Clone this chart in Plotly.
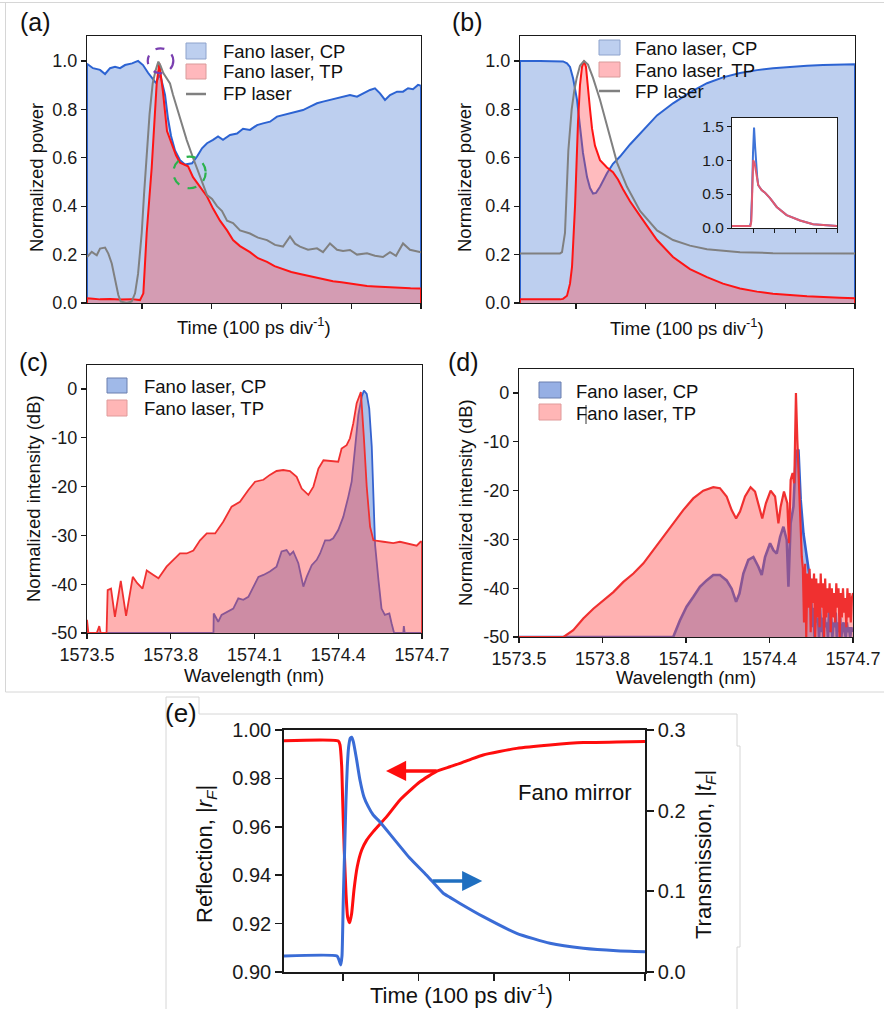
import plotly.graph_objects as go

W, H = 884, 1009
FONT = "Liberation Sans, Arial, Helvetica, sans-serif"


def fx(px):
    return px / W


def fy(py):
    return 1 - py / H


# ---------------- (a) measured pulse, time in ps ----------------
a_cp_t = [21.1, 21.1, 29.7, 39.8, 47.0, 54.1, 61.3, 68.5, 75.6, 85.7,
          94.3, 101.4, 108.6, 115.8, 120.1, 124.4, 127.2, 133.0, 137.3, 141.6,
          147.3, 154.5, 161.6, 171.7, 178.9, 186.0, 193.2, 201.8, 209.0, 216.1,
          226.2, 236.2, 244.8, 254.8, 264.9, 273.5, 283.5, 293.5, 302.2, 312.2,
          322.2, 330.8, 340.9, 350.9, 359.5, 369.5, 379.6, 388.2, 398.2, 408.2,
          416.8, 426.9, 434.0, 441.2, 448.4, 455.6, 465.6, 474.2, 481.4, 488.5,
          495.7, 500.0, 500.0]
a_cp_p = [0, 0.988, 0.970, 0.963, 0.946, 0.970, 0.976, 0.970, 0.983, 0.990,
          1.0, 0.983, 0.951, 0.921, 0.908, 0.94, 0.93, 0.86, 0.76, 0.69,
          0.63, 0.59, 0.572, 0.577, 0.605, 0.639, 0.66, 0.674, 0.688, 0.674,
          0.694, 0.70, 0.72, 0.715, 0.735, 0.742, 0.749, 0.77, 0.776, 0.783,
          0.790, 0.797, 0.811, 0.825, 0.832, 0.839, 0.845, 0.852, 0.859, 0.852,
          0.866, 0.880, 0.887, 0.866, 0.839, 0.859, 0.873, 0.873, 0.887, 0.883,
          0.901, 0.897, 0]

a_tp_t = [21.1, 21.1, 29.7, 39.8, 54.1, 68.5, 85.7, 97.1, 101.9, 106.7,
          113.9, 121.1, 124.8, 130.1, 135.8, 143.0, 148.7, 154.5, 161.6, 166.0,
          173.1, 183.2, 193.2, 201.8, 211.8, 221.9, 230.5, 240.5, 254.8, 266.3,
          279.2, 290.0, 302.2, 314.0, 326.5, 338.0, 350.9, 362.0, 373.8, 386.0,
          398.2, 410.0, 422.6, 434.0, 445.5, 458.0, 470.0, 485.0, 500.0, 500.0]
a_tp_p = [0, 0.02, 0.018, 0.015, 0.017, 0.014, 0.016, 0.012, 0.04, 0.29,
          0.56, 0.91, 0.99, 0.87, 0.71, 0.65, 0.61, 0.58, 0.57, 0.565,
          0.52, 0.48, 0.44, 0.39, 0.34, 0.30, 0.26, 0.235, 0.21, 0.185,
          0.17, 0.152, 0.14, 0.128, 0.12, 0.113, 0.105, 0.096, 0.09, 0.086,
          0.08, 0.075, 0.07, 0.068, 0.066, 0.064, 0.062, 0.061, 0.06, 0]

a_fp_t = [21.1, 27.9, 35.1, 39.8, 47.0, 51.7, 56.6, 61.3, 66.0, 69.5,
          78.1, 85.2, 90.0, 94.3, 99.6, 102.9, 106.7, 110.8, 115.3, 119.4,
          123.4, 126.5, 130.5, 135.1, 140.1, 144.4, 149.7, 156.6, 164.1, 173.1,
          183.2, 193.2, 200.4, 207.5, 214.7, 221.9, 230.5, 240.5, 254.8, 266.3,
          279.2, 290.7, 302.2, 312.2, 319.4, 326.5, 338.0, 350.9, 359.5, 369.5,
          379.6, 388.2, 398.2, 408.2, 422.6, 434.0, 445.5, 455.6, 464.2, 474.2,
          484.2, 492.8, 500.0]
a_fp_p = [0.19, 0.211, 0.197, 0.225, 0.229, 0.204, 0.163, 0.095, 0.033, 0.006,
          0.0, 0.006, 0.04, 0.12, 0.29, 0.45, 0.63, 0.78, 0.907, 0.96,
          0.997, 0.98, 0.95, 0.93, 0.907, 0.86, 0.81, 0.74, 0.673, 0.60,
          0.52, 0.446, 0.43, 0.40, 0.38, 0.34, 0.33, 0.30, 0.287, 0.27,
          0.26, 0.24, 0.233, 0.275, 0.245, 0.233, 0.22, 0.226, 0.21, 0.246,
          0.22, 0.215, 0.219, 0.20, 0.205, 0.195, 0.19, 0.21, 0.195, 0.246,
          0.22, 0.215, 0.21]

# ---------------- (b) simulated pulse ----------------
b_cp_t = [19.7, 19.7, 48.4, 69.9, 81.4, 87.1, 91.4, 95.7, 101.4, 105.7,
          110.0, 115.8, 120.1, 124.4, 128.7, 134.4, 144.4, 153.0, 163.1, 177.4,
          191.8, 216.1, 239.1, 263.4, 287.8, 310.7, 335.1, 359.5, 382.4, 406.8,
          431.2, 454.1, 478.5, 500.0, 500.0]
b_cp_p = [0, 1.0, 1.0, 1.0, 0.998, 0.99, 0.975, 0.93, 0.84, 0.73,
          0.62, 0.52, 0.475, 0.452, 0.455, 0.48, 0.536, 0.575, 0.605, 0.655,
          0.70, 0.775, 0.825, 0.87, 0.908, 0.932, 0.95, 0.962, 0.97, 0.976,
          0.98, 0.983, 0.985, 0.986, 0]

b_tp_t = [19.7, 19.7, 77.1, 81.4, 87.1, 91.4, 94.3, 98.6, 102.9, 105.7,
          108.6, 111.5, 114.3, 117.2, 120.1, 123.0, 127.2, 134.4, 144.4, 153.0,
          160.2, 167.4, 177.4, 191.8, 216.1, 239.1, 263.4, 287.8, 310.7, 335.1,
          359.5, 382.4, 431.2, 478.5, 500.0, 500.0]
b_tp_p = [0, 0.015, 0.015, 0.017, 0.03, 0.08, 0.15, 0.40, 0.75, 0.90,
          0.975, 1.0, 0.975, 0.90, 0.80, 0.72, 0.65, 0.59, 0.56, 0.54,
          0.51, 0.47, 0.42, 0.36, 0.26, 0.19, 0.14, 0.107, 0.08, 0.06,
          0.047, 0.038, 0.028, 0.022, 0.02, 0]

b_fp_t = [19.7, 77.1, 79.9, 84.2, 89.0, 93.8, 97.4, 101.0, 105.7, 111.5,
          117.2, 124.4, 134.4, 144.4, 158.8, 173.1, 191.8, 216.1, 239.1, 263.4,
          287.8, 335.1, 382.4, 500.0]
b_fp_p = [0.205, 0.205, 0.21, 0.29, 0.63, 0.80, 0.875, 0.93, 0.98, 1.0,
          0.985, 0.93, 0.84, 0.73, 0.58, 0.48, 0.38, 0.30, 0.26, 0.237,
          0.222, 0.21, 0.206, 0.205]

# inset of (b): unnormalised output, time in divisions
ins_cp_t = [0, 0.85, 0.9, 0.95, 1.0, 1.05, 1.1, 1.15, 1.2, 1.25,
            1.41, 1.57, 1.81, 2.13, 2.6, 3.24, 3.86, 5.0]
ins_cp_p = [0.03, 0.03, 0.08, 0.45, 1.1, 1.48, 1.2, 0.9, 0.75, 0.63,
            0.56, 0.52, 0.44, 0.31, 0.19, 0.11, 0.054, 0.03]
ins_tp_t = [0, 0.88, 0.92, 0.97, 1.01, 1.08, 1.16, 1.25, 1.41, 1.57,
            1.81, 2.13, 2.6, 3.24, 3.86, 5.0]
ins_tp_p = [0.03, 0.03, 0.1, 0.75, 1.0, 0.95, 0.78, 0.63, 0.56, 0.52,
            0.44, 0.31, 0.19, 0.11, 0.054, 0.03]

# ---------------- (c) measured spectra, nm / dB ----------------
c_tp_w = [1573.500, 1573.500, 1573.505, 1573.535, 1573.544, 1573.549, 1573.570, 1573.574, 1573.586, 1573.600,
          1573.621, 1573.640, 1573.664, 1573.680, 1573.699, 1573.714, 1573.738, 1573.756, 1573.785, 1573.809,
          1573.833, 1573.857, 1573.881, 1573.905, 1573.929, 1573.959, 1573.988, 1574.018, 1574.048, 1574.078,
          1574.102, 1574.132, 1574.155, 1574.179, 1574.203, 1574.227, 1574.251, 1574.269, 1574.293, 1574.311,
          1574.329, 1574.347, 1574.382, 1574.400, 1574.412, 1574.430, 1574.442, 1574.454, 1574.466, 1574.478,
          1574.481, 1574.492, 1574.502, 1574.514, 1574.526, 1574.562, 1574.597, 1574.621, 1574.657, 1574.681,
          1574.695, 1574.700, 1574.700]
c_tp_db = [-50, -47.3, -50, -50, -48.6, -50, -50, -41.2, -40.9, -46.7,
           -39.3, -46.5, -38.5, -39.8, -40.9, -37.2, -38.1, -38.8, -36.4, -35.0,
           -33.7, -33.7, -33.1, -31.0, -29.6, -29.6, -27.2, -24.1, -23.1, -20.7,
           -19.0, -18.6, -17.6, -16.8, -16.6, -16.8, -18.0, -20.4, -21.7, -20.0,
           -16.3, -14.6, -14.7, -14.9, -12.2, -11.5, -10.1, -7.0, -2.9, -0.8,
           -0.6, -10.1, -20.0, -28.2, -31.0, -31.3, -31.6, -31.3, -31.8, -32.1,
           -31.3, -31.3, -50]

c_cp_w = [1573.500, 1573.953, 1573.954, 1573.970, 1573.982, 1574.000, 1574.024, 1574.042, 1574.060, 1574.078,
          1574.096, 1574.114, 1574.132, 1574.155, 1574.179, 1574.197, 1574.215, 1574.227, 1574.239, 1574.257,
          1574.275, 1574.287, 1574.305, 1574.323, 1574.335, 1574.353, 1574.370, 1574.382, 1574.400, 1574.418,
          1574.436, 1574.448, 1574.460, 1574.472, 1574.484, 1574.492, 1574.502, 1574.511, 1574.520, 1574.526,
          1574.532, 1574.544, 1574.555, 1574.567, 1574.583, 1574.591, 1574.600, 1574.633, 1574.635, 1574.638,
          1574.700]
c_cp_db = [-50, -50, -46.0, -47.7, -46.3, -45.8, -45.0, -42.9, -43.2, -42.6,
           -40.5, -38.5, -38.1, -37.4, -36.4, -33.3, -33.0, -34.0, -33.3, -35.7,
           -40.5, -38.5, -36.1, -35.0, -33.7, -31.0, -31.0, -30.6, -28.9, -26.2,
           -22.1, -19.0, -12.2, -5.3, -1.6, -0.3, -1.0, -4.0, -11.8, -22.1,
           -32.0, -39.1, -45.0, -46.3, -46.0, -48.0, -50, -50, -48.6, -50,
           -50]

# ---------------- (d) simulated spectra, nm / dB ----------------
d_tp_w = [1573.500, 1573.660, 1573.695, 1573.731, 1573.767, 1573.803, 1573.839, 1573.875, 1573.911, 1573.947,
          1573.983, 1574.019, 1574.054, 1574.090, 1574.126, 1574.162, 1574.198, 1574.222, 1574.246, 1574.264,
          1574.280, 1574.294, 1574.312, 1574.332, 1574.348, 1574.363, 1574.374, 1574.387, 1574.404, 1574.420,
          1574.432, 1574.440, 1574.452, 1574.464, 1574.470, 1574.476, 1574.483, 1574.489, 1574.495, 1574.500,
          1574.505, 1574.510, 1574.516]
d_tp_db = [-50, -50, -48.6, -46.2, -44.2, -42.5, -40.8, -38.7, -37.0, -34.9,
           -32.2, -29.5, -26.7, -24.0, -21.6, -20.0, -19.3, -19.5, -21.2, -24.0,
           -25.7, -24.3, -21.2, -19.3, -20.2, -23.6, -25.7, -22.6, -20.0, -21.2,
           -26.7, -23.3, -20.2, -22.6, -30.8, -17.8, -16.4, -18.5, 0.0, -9.6,
           -17.8, -27.4, -33.6]
# fringe noise on the long-wavelength side
d_tp_tail_w = [1574.520, 1574.524, 1574.528, 1574.532, 1574.536, 1574.540, 1574.544, 1574.548, 1574.552, 1574.556,
               1574.560, 1574.564, 1574.568, 1574.572, 1574.576, 1574.580, 1574.584, 1574.588, 1574.592, 1574.596,
               1574.600, 1574.604, 1574.608, 1574.612, 1574.616, 1574.620, 1574.624, 1574.628, 1574.632, 1574.636,
               1574.640, 1574.644, 1574.648, 1574.652, 1574.656, 1574.660, 1574.664, 1574.668, 1574.672, 1574.676,
               1574.680, 1574.684, 1574.688, 1574.692, 1574.696, 1574.700]
d_tp_tail_db = [-36, -47, -35, -50, -37, -44, -36, -49, -38, -43,
                -37, -50, -38, -46, -39, -48, -37, -44, -39, -50,
                -38, -46, -40, -45, -39, -49, -40, -46, -41, -47,
                -39, -44, -40, -50, -41, -46, -40, -45, -42, -48,
                -40, -46, -41, -47, -42, -41]

d_cp_w = [1573.500, 1574.054, 1574.078, 1574.102, 1574.126, 1574.150, 1574.174, 1574.198, 1574.222, 1574.246,
          1574.264, 1574.280, 1574.292, 1574.306, 1574.324, 1574.342, 1574.360, 1574.372, 1574.384, 1574.402,
          1574.414, 1574.426, 1574.438, 1574.450, 1574.462, 1574.468, 1574.476, 1574.486, 1574.495, 1574.504,
          1574.512, 1574.522, 1574.534, 1574.546]
d_cp_db = [-50, -50, -46.6, -43.8, -41.8, -39.7, -38.4, -37.3, -37.3, -38.4,
           -40.1, -42.8, -41.1, -37.0, -34.2, -33.6, -35.6, -37.3, -33.6, -30.8,
           -32.2, -32.9, -29.5, -27.4, -30.1, -39.7, -26.7, -23.3, -12.0, -11.6,
           -21.9, -28.8, -33.6, -38.4]
d_cp_tail_w = [1574.550, 1574.554, 1574.558, 1574.562, 1574.566, 1574.570, 1574.574, 1574.578, 1574.582, 1574.586,
               1574.590, 1574.594, 1574.598, 1574.602, 1574.606, 1574.610, 1574.614, 1574.618, 1574.622, 1574.626,
               1574.630, 1574.634, 1574.638, 1574.642, 1574.646, 1574.650, 1574.654, 1574.658, 1574.662, 1574.666,
               1574.670, 1574.674, 1574.678, 1574.682, 1574.686, 1574.690, 1574.694, 1574.698]
d_cp_tail_db = [-42, -48, -44, -50, -45, -47, -46, -50, -44, -49,
                -46, -50, -45, -48, -47, -50, -44, -49, -46, -50,
                -47, -48, -45, -50, -47, -49, -46, -50, -48, -47,
                -49, -50, -47, -49, -48, -50, -48, -49]

# ---------------- (e) Fano mirror response ----------------
e_r_t = [21.9, 93.8, 96.0, 98.3, 99.6, 101.7, 104.0, 106.2, 108.9, 111.5,
         114.6, 118.9, 124.8, 131.4, 140.1, 157.9, 175.5, 202.0, 224.5, 241.7,
         255.0, 270.0, 285.8, 330.1, 374.2, 418.3, 462.5, 500.0]
e_r_val = [0.9956, 0.9955, 0.994, 0.985, 0.971, 0.950, 0.9326, 0.9227, 0.9204, 0.9242,
           0.934, 0.9435, 0.9504, 0.9545, 0.958, 0.9642, 0.9711, 0.9786, 0.983, 0.9848,
           0.9862, 0.988, 0.9897, 0.9924, 0.9938, 0.9948, 0.995, 0.9952]
e_t_t = [21.9, 92.1, 94.7, 97.0, 98.7, 100.4, 102.2, 104.0, 105.7, 107.5,
         109.7, 111.5, 113.7, 118.1, 122.5, 127.8, 133.5, 140.1, 149.0, 166.6,
         188.7, 210.8, 232.8, 241.7, 255.0, 285.8, 330.1, 374.2, 418.3, 462.5,
         500.0]
e_t_val = [0.0198, 0.0198, 0.015, 0.0087, 0.02, 0.089, 0.151, 0.213, 0.2545, 0.279,
           0.29, 0.291, 0.2855, 0.263, 0.238, 0.217, 0.205, 0.1946, 0.186, 0.166,
           0.141, 0.120, 0.0976, 0.0925, 0.085, 0.0686, 0.048, 0.0356, 0.0294, 0.0264,
           0.0252]

power_ticks = [0, 0.2, 0.4, 0.6, 0.8, 1.0]
power_labels = ["0.0", "0.2", "0.4", "0.6", "0.8", "1.0"]
time_ticks = [100, 200, 300, 400, 500]
wl_ticks = [1573.5, 1573.8, 1574.1, 1574.4, 1574.7]
wl_labels = ["1573.5", "1573.8", "1574.1", "1574.4", "1574.7"]
db_ticks = [-50, -40, -30, -20, -10, 0]
db_labels = ["-50", "-40", "-30", "-20", "-10", "0"]
inset_ticks = [0, 0.5, 1.0, 1.5]
inset_labels = ["0.0", "0.5", "1.0", "1.5"]
refl_ticks = [0.90, 0.92, 0.94, 0.96, 0.98, 1.00]
refl_labels = ["0.90", "0.92", "0.94", "0.96", "0.98", "1.00"]
trans_ticks = [0.0, 0.1, 0.2, 0.3]
trans_labels = ["0.0", "0.1", "0.2", "0.3"]

# ---------------- styles ----------------
CP_FILL = "rgb(189,207,239)"
TP_FILL = "rgba(255,60,70,0.35)"
CP_LINE = "#2c63d2"
TP_LINE = "#ff1414"
FP_LINE = "#808080"
SP_CP_FILL = "rgba(100,140,215,0.55)"
SP_TP_FILL = "rgba(255,70,70,0.42)"
SP_CP_LINE = "#3562cf"
SP_TP_LINE = "#f03030"

TICK = 18
LEG = 18.5
TITLE = 18.5
E_TICK = 20
E_TITLE = 22

fig = go.Figure()


def line(x, y, xa, ya, color, width, fill=None, fillcolor=None):
    fig.add_trace(go.Scatter(
        x=x, y=y, xaxis=xa, yaxis=ya, mode="lines",
        fill=fill, fillcolor=fillcolor,
        line=dict(color=color, width=width),
        hoverinfo="skip", showlegend=False))


def floor_fill(x, y, xa, ya, floor, fillcolor):
    fig.add_trace(go.Scatter(
        x=list(x) + [x[-1], x[0]], y=list(y) + [floor, floor],
        xaxis=xa, yaxis=ya, mode="lines", fill="toself",
        fillcolor=fillcolor, line=dict(width=0),
        hoverinfo="skip", showlegend=False))


# (a)
line(a_cp_t, a_cp_p, "x", "y", CP_LINE, 2, "tozeroy", CP_FILL)
line(a_tp_t, a_tp_p, "x", "y", TP_LINE, 2, "tozeroy", TP_FILL)
line(a_fp_t, a_fp_p, "x", "y", FP_LINE, 2)
# (b)
line(b_cp_t, b_cp_p, "x2", "y2", CP_LINE, 2, "tozeroy", CP_FILL)
line(b_tp_t, b_tp_p, "x2", "y2", TP_LINE, 2, "tozeroy", TP_FILL)
line(b_fp_t, b_fp_p, "x2", "y2", FP_LINE, 2)
# inset
line(ins_cp_t, ins_cp_p, "x3", "y3", "#3f74d8", 2)
line(ins_tp_t, ins_tp_p, "x3", "y3", "#e2596e", 2)
# (c)
floor_fill(c_cp_w, c_cp_db, "x4", "y4", -50, SP_CP_FILL)
line(c_cp_w, c_cp_db, "x4", "y4", SP_CP_LINE, 1.8)
floor_fill(c_tp_w, c_tp_db, "x4", "y4", -50, SP_TP_FILL)
line(c_tp_w, c_tp_db, "x4", "y4", SP_TP_LINE, 1.8)
# (d)
d_cp_all_w = d_cp_w + d_cp_tail_w
d_cp_all_db = d_cp_db + d_cp_tail_db
d_tp_all_w = d_tp_w + d_tp_tail_w
d_tp_all_db = d_tp_db + d_tp_tail_db
floor_fill(d_cp_all_w, d_cp_all_db, "x5", "y5", -50, SP_CP_FILL)
line(d_cp_all_w, d_cp_all_db, "x5", "y5", SP_CP_LINE, 2.6)
floor_fill(d_tp_all_w, d_tp_all_db, "x5", "y5", -50, SP_TP_FILL)
line(d_tp_all_w, d_tp_all_db, "x5", "y5", SP_TP_LINE, 2.2)
# (e)
fig.add_trace(go.Scatter(x=e_r_t, y=e_r_val, xaxis="x6", yaxis="y6", mode="lines",
                         line=dict(color="#ff0d0d", width=3, shape="spline", smoothing=0.5),
                         hoverinfo="skip", showlegend=False))
fig.add_trace(go.Scatter(x=e_t_t, y=e_t_val, xaxis="x6", yaxis="y7", mode="lines",
                         line=dict(color="#3a6cd6", width=3, shape="spline", smoothing=0.5),
                         hoverinfo="skip", showlegend=False))


def ax(domain, rng, tickvals, ticktext=None, show_labels=True, size=TICK, lw=1.2, tl=5, **kw):
    d = dict(domain=domain, range=rng, tickmode="array", tickvals=tickvals,
             showticklabels=show_labels, showline=True, linecolor="#1a1a1a",
             linewidth=lw, ticks="outside", ticklen=tl, tickwidth=lw,
             tickcolor="#1a1a1a", showgrid=False, zeroline=False, mirror=True,
             fixedrange=True, automargin=False,
             tickfont=dict(family=FONT, size=size, color="#1a1a1a"))
    if ticktext is not None:
        d["ticktext"] = ticktext
    d.update(kw)
    return d


layout = dict(
    width=W, height=H, autosize=False,
    margin=dict(l=0, r=0, t=0, b=0, pad=0, autoexpand=False),
    paper_bgcolor="white", plot_bgcolor="white", showlegend=False,
    xaxis=ax([fx(87), fx(421)], [21.1, 500], time_ticks, show_labels=False, anchor="y"),
    yaxis=ax([fy(303), fy(36)], [0, 1.103], power_ticks, power_labels, anchor="x"),
    xaxis2=ax([fx(520), fx(855)], [19.7, 500], time_ticks, show_labels=False, anchor="y2"),
    yaxis2=ax([fy(303), fy(36)], [0, 1.103], power_ticks, power_labels, anchor="x2"),
    xaxis3=ax([fx(732), fx(837)], [0, 5], [1, 2, 3, 4, 5], show_labels=False, anchor="y3", tl=4, lw=1),
    yaxis3=ax([fy(228), fy(118)], [0, 1.62], inset_ticks, inset_labels, size=15.5, anchor="x3", tl=4, lw=1),
    xaxis4=ax([fx(87), fx(422)], [1573.5, 1574.7], wl_ticks, wl_labels, anchor="y4"),
    yaxis4=ax([fy(633), fy(365)], [-50, 4.92], db_ticks, db_labels, anchor="x4"),
    xaxis5=ax([fx(519), fx(853)], [1573.5, 1574.7], wl_ticks, wl_labels, anchor="y5"),
    yaxis5=ax([fy(637), fy(369)], [-50, 4.92], db_ticks, db_labels, anchor="x5"),
    xaxis6=ax([fx(284), fx(645)], [21.9, 500], time_ticks, show_labels=False, anchor="y6",
              lw=1.8, tl=7),
    yaxis6=ax([fy(972), fy(730)], [0.90, 1.00], refl_ticks, refl_labels, size=E_TICK,
              anchor="x6", lw=1.8, tl=7, mirror=False),
    yaxis7=ax([fy(972), fy(730)], [0.0, 0.3], trans_ticks, trans_labels, size=E_TICK,
              anchor="x6", overlaying="y6", side="right", lw=1.8, tl=7, mirror=False),
)

shapes = []
annotations = []


def seg(x0, y0, x1, y1, color="#d6d6d6", width=1, layer="below"):
    shapes.append(dict(type="line", xref="paper", yref="paper",
                       x0=fx(x0), y0=fy(y0), x1=fx(x1), y1=fy(y1),
                       line=dict(color=color, width=width), layer=layer))


def box(x0, y0, x1, y1, fill, border):
    shapes.append(dict(type="rect", xref="paper", yref="paper",
                       x0=fx(x0), x1=fx(x1), y0=fy(y1), y1=fy(y0),
                       fillcolor=fill, line=dict(color=border, width=1), layer="above"))


def text(s, x, y, size, xanchor="left", angle=0, color="#111"):
    annotations.append(dict(text=s, x=fx(x), y=fy(y), xref="paper", yref="paper",
                            showarrow=False, xanchor=xanchor, yanchor="middle",
                            textangle=angle,
                            font=dict(family=FONT, size=size, color=color)))


# figure frame lines
seg(0, 2.5, 884, 2.5)
seg(5.5, 2.5, 5.5, 692)
seg(5.5, 692, 884, 692)
seg(166, 697, 166, 1009)
seg(166, 697, 199, 697)
seg(199, 697, 199, 714)
seg(199, 714, 737, 714)
seg(737, 714, 737, 746)
seg(737, 746, 740, 746)
seg(740, 746, 740, 947)
seg(737, 947, 740, 947)
seg(737, 947, 737, 1009)

# white backdrop of the inset
shapes.append(dict(type="rect", xref="x3", yref="y3", x0=0, x1=5, y0=0, y1=1.62,
                   fillcolor="white", line=dict(width=0), layer="below"))

# highlight circles in (a)
shapes.append(dict(type="circle", xref="x", yref="y", x0=108.2, x1=144.9, y0=0.949, y1=1.052,
                   line=dict(color="#7a3fb0", width=2.2, dash="dash"), layer="above"))
shapes.append(dict(type="circle", xref="x", yref="y", x0=144.9, x1=191.3, y0=0.474, y1=0.605,
                   line=dict(color="#2bb24c", width=2.2, dash="dash"), layer="above"))

# legends
box(186, 43, 206, 59, "rgb(189,207,239)", "#8ea3cc")
box(186, 64, 206, 79, "rgb(255,184,188)", "#d99a9a")
seg(186, 94, 206, 94, color=FP_LINE, width=2.5, layer="above")
text("Fano laser, CP", 221, 52, LEG)
text("Fano laser, TP", 221, 72, LEG)
text("FP laser", 221, 94, LEG)

box(599, 40, 620, 55, "rgb(189,207,239)", "#8ea3cc")
box(599, 62, 620, 77, "rgb(255,184,188)", "#d99a9a")
seg(599, 91, 620, 91, color=FP_LINE, width=2.5, layer="above")
text("Fano laser, CP", 633, 48, LEG)
text("Fano laser, TP", 633, 70, LEG)
text("FP laser", 633, 91, LEG)

box(107, 378, 127, 393, "rgb(160,185,232)", "#6a7fae")
box(107, 400, 127, 416, "rgb(255,182,182)", "#e09a9a")
text("Fano laser, CP", 142, 386.5, LEG)
text("Fano laser, TP", 142, 408.5, LEG)

box(539, 382, 561, 398, "rgb(150,175,228)", "#6a7fae")
box(539, 404, 561, 420, "rgb(255,182,182)", "#e09a9a")
text("Fano laser, CP", 574, 391, LEG)
text("Fano laser, TP", 574, 413, LEG)
seg(586, 405, 586, 424, color="#333", width=1, layer="above")

# panel letters
text("(a)", 35, 22, 25, xanchor="center")
text("(b)", 467, 22, 25, xanchor="center")
text("(c)", 33, 362, 25, xanchor="center")
text("(d)", 463, 362, 25, xanchor="center")
text("(e)", 181, 713, 26, xanchor="center")

# axis titles
TIME = "Time (100 ps div<sup>-1</sup>)"
text("Normalized power", 36, 178, TITLE, xanchor="center", angle=-90)
text(TIME, 254, 326, TITLE, xanchor="center")
text("Normalized power", 464, 178, TITLE, xanchor="center", angle=-90)
text(TIME, 687, 327, TITLE, xanchor="center")
text("Normalized intensity (dB)", 33, 499, TITLE, xanchor="center", angle=-90)
text("Wavelength (nm)", 254, 675, TITLE, xanchor="center")
text("Normalized intensity (dB)", 465, 503, TITLE, xanchor="center", angle=-90)
text("Wavelength (nm)", 686, 677, TITLE, xanchor="center")
text("Reflection, |<i>r</i><sub><i>F</i></sub>|", 206, 854, E_TITLE, xanchor="center", angle=-90)
text("Transmission, |<i>t</i><sub><i>F</i></sub>|", 705, 855, E_TITLE, xanchor="center", angle=-90)
text(TIME, 461, 994, E_TITLE, xanchor="center")
text("Fano mirror", 634, 792, E_TITLE, xanchor="right")

# direction arrows in (e)
annotations.append(dict(x=157, y=0.9831, ax=226, ay=0.9831, xref="x6", yref="y6",
                        axref="x6", ayref="y6", text="", showarrow=True, arrowhead=2,
                        arrowsize=1.15, arrowwidth=3.5, arrowcolor="#ff0d0d"))
annotations.append(dict(x=284.5, y=0.1128, ax=217, ay=0.1128, xref="x6", yref="y7",
                        axref="x6", ayref="y7", text="", showarrow=True, arrowhead=2,
                        arrowsize=1.15, arrowwidth=3.5, arrowcolor="#1f6fc0"))

layout["shapes"] = shapes
layout["annotations"] = annotations
fig.update_layout(**layout)

fig.write_html(
    "out.html",
    config={"displayModeBar": False, "staticPlot": True, "responsive": False},
    default_width=W, default_height=H,
    post_script="document.body.style.margin='0';document.body.style.padding='0';"
                "document.body.style.overflow='hidden';",
)
